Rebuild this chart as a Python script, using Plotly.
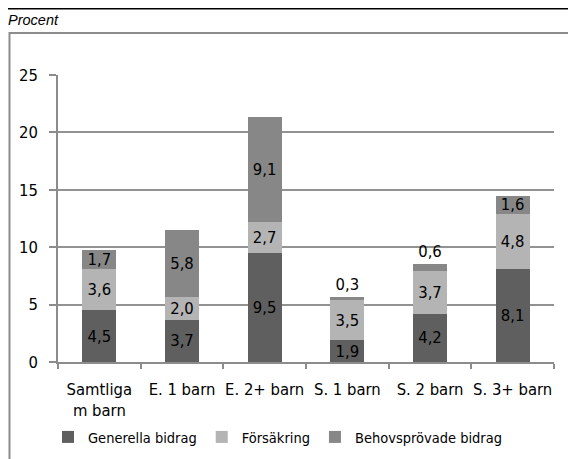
import plotly.graph_objects as go

categories = ["Samtliga<br>m barn", "E. 1 barn", "E. 2+ barn", "S. 1 barn", "S. 2 barn", "S. 3+ barn"]
generella = [4.5, 3.7, 9.5, 1.9, 4.2, 8.1]
forsakring = [3.6, 2.0, 2.7, 3.5, 3.7, 4.8]
behovsprovade = [1.7, 5.8, 9.1, 0.3, 0.6, 1.6]
y_ticks = [0, 5, 10, 15, 20, 25]

FONT = "DejaVu Sans Condensed, Liberation Sans Narrow, sans-serif"
OFF = 8  # page body margin
W, H = 576 - OFF, 459 - OFF
L, T = 58 - OFF, 75 - OFF
R = W - (554 - OFF)
B = H - (362 - OFF)
PW, PH = W - L - R, H - T - B


def px(x):
    """page x pixel -> paper coordinate"""
    return (x - OFF - L) / PW


def py(y):
    """page y pixel -> paper coordinate"""
    return (H - B - (y - OFF)) / PH


def fmt(v):
    return f"{v:.1f}".replace(".", ",")


fig = go.Figure()
series = [
    ("Generella bidrag", generella, "#5f5f5f"),
    ("Försäkring", forsakring, "#b4b4b4"),
    ("Behovsprövade bidrag", behovsprovade, "#878787"),
]
for name, vals, color in series:
    positions = ["outside" if v < 1 else "inside" for v in vals]
    fig.add_trace(go.Bar(
        name=name, x=categories, y=vals,
        marker=dict(color=color, line=dict(width=0)),
        text=[fmt(v) for v in vals],
        textposition=positions,
        insidetextanchor="middle",
        textangle=0,
        constraintext="none",
        textfont=dict(family=FONT, size=16.5, color="black"),
        cliponaxis=False,
        width=0.41,
    ))

fig.update_layout(
    barmode="stack",
    width=W, height=H,
    margin=dict(l=L, r=R, t=T, b=B, pad=0, autoexpand=False),
    paper_bgcolor="white", plot_bgcolor="white",
    font=dict(family=FONT, size=16.5, color="black"),
    showlegend=True,
    legend=dict(
        orientation="h", x=px(48), xanchor="left", y=py(421), yanchor="top",
        font=dict(family=FONT, size=14.5, color="black"),
        itemwidth=30, traceorder="normal", bgcolor="rgba(0,0,0,0)",
    ),
    xaxis=dict(
        type="category", tickson="boundaries", ticks="outside", ticklen=5,
        tickcolor="#8c8c8c", tickwidth=1.5, showline=True, linecolor="#8c8c8c",
        linewidth=1.5, showgrid=False, ticklabelstandoff=11, tickangle=0,
        automargin=False,
        tickfont=dict(family=FONT, size=16.5, color="black"),
    ),
    yaxis=dict(
        range=[0, 25], tickvals=y_ticks, ticks="outside", ticklen=7,
        tickcolor="#8c8c8c", tickwidth=1.5, showline=True, linecolor="#8c8c8c",
        linewidth=1.5, showgrid=True, gridcolor="#929292", gridwidth=1.5,
        zeroline=False, ticklabelstandoff=8, automargin=False,
        tickfont=dict(family=FONT, size=16.5, color="black"),
    ),
    shapes=[
        dict(type="line", xref="paper", yref="paper", x0=px(0), x1=px(600),
             y0=py(8.75), y1=py(8.75), line=dict(color="black", width=1.5)),
        dict(type="rect", xref="paper", yref="paper", x0=px(9.5), x1=px(620),
             y0=py(33), y1=py(480), line=dict(color="#8c8c8c", width=2),
             layer="below"),
    ],
    annotations=[
        dict(text="Procent", xref="paper", yref="paper", x=px(6), y=py(10),
             xanchor="left", yanchor="top", showarrow=False,
             font=dict(family="Liberation Sans, Arial, sans-serif", size=14.5,
                       color="black", style="italic")),
    ],
)

fig.write_html("out.html")
